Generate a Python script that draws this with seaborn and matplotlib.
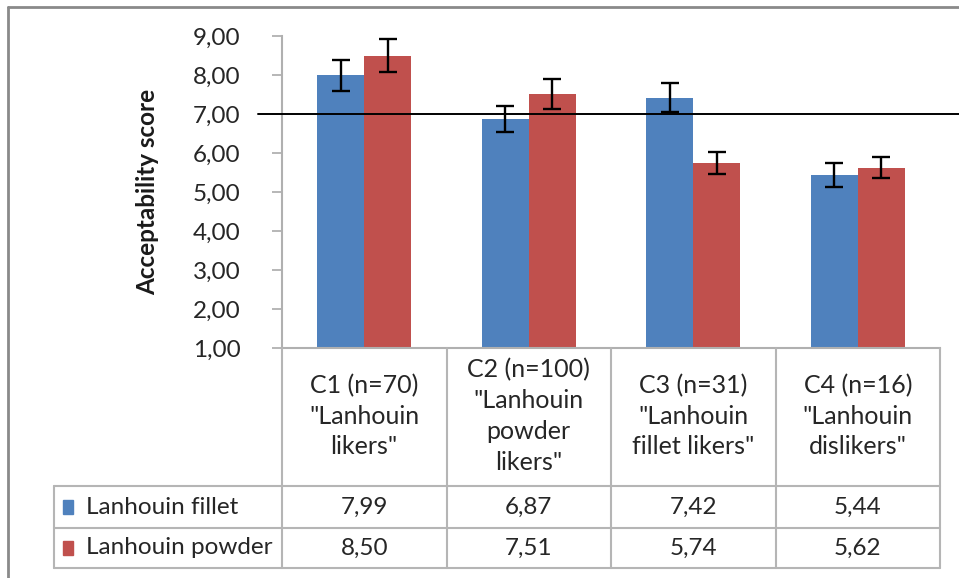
import matplotlib
matplotlib.use("Agg")
import matplotlib.pyplot as plt
from matplotlib.lines import Line2D
from matplotlib.patches import Rectangle
import matplotlib.transforms as mtransforms
import seaborn as sns
import pandas as pd

# Data
categories = ['C1 (n=70)\n"Lanhouin\nlikers"',
              'C2 (n=100)\n"Lanhouin\npowder\nlikers"',
              'C3 (n=31)\n"Lanhouin\nfillet likers"',
              'C4 (n=16)\n"Lanhouin\ndislikers"']
series_names = ['Lanhouin fillet', 'Lanhouin powder']
fillet_scores = [7.99, 6.87, 7.42, 5.44]
powder_scores = [8.50, 7.51, 5.74, 5.62]
fillet_err = [0.40, 0.34, 0.38, 0.30]
powder_err = [0.43, 0.39, 0.29, 0.27]
threshold = 7.0
y_ticks = [1, 2, 3, 4, 5, 6, 7, 8, 9]

colors = ['#4F81BD', '#C0504D']
W, H = 959, 578

sns.set_style('white')
plt.rcParams['font.family'] = ['Lato', 'DejaVu Sans']


def fy(px):
    # pixel row (from top) -> figure fraction
    return 1 - px / H


def fx(px):
    return px / W


def make_frame():
    rows = []
    for name, vals in zip(series_names, [fillet_scores, powder_scores]):
        for cat, v in zip(categories, vals):
            rows.append({'category': cat, 'product': name, 'score': v})
    return pd.DataFrame(rows)


def main():
    df = make_frame()
    fig = plt.figure(figsize=(W / 100, H / 100), dpi=100)
    ax = fig.add_axes([fx(282), fy(348), fx(940) - fx(282), fy(36) - fy(348)])

    sns.barplot(data=df, x='category', y='score', hue='product',
                palette=colors, saturation=1, width=0.57, gap=0,
                errorbar=None, legend=False, linewidth=0, ax=ax)

    # error bars on top of each bar
    for container, errs in zip(ax.containers, [fillet_err, powder_err]):
        for bar, err in zip(container, errs):
            ax.errorbar(bar.get_x() + bar.get_width() / 2, bar.get_height(),
                        yerr=err, fmt='none', ecolor='black',
                        elinewidth=1.7, capsize=6.5, capthick=1.7, zorder=4)

    # reference line at 7
    ax.axhline(threshold, xmin=-0.036, xmax=1.05, color='black',
               linewidth=1.4, clip_on=False, zorder=5)

    ax.set_ylim(1, 9)
    ax.set_xlim(-0.5, len(categories) - 0.5)
    ax.set_yticks(y_ticks)
    ax.set_yticklabels([f'{t:.2f}'.replace('.', ',') for t in y_ticks],
                       fontsize=17.5, color='#262626')
    ax.tick_params(axis='y', length=7, width=1.2, color='#AAAAAA', pad=23, left=True)
    ax.set_xticks([])
    ax.set_xlabel('')
    ax.set_ylabel('Acceptability score', fontsize=17.5, fontweight='bold',
                  color='#1a1a1a', labelpad=24)
    for side in ['top', 'right']:
        ax.spines[side].set_visible(False)
    ax.spines['left'].set_color('#B0B0B0')
    ax.spines['left'].set_linewidth(1.5)
    ax.spines['bottom'].set_color('#B0B0B0')
    ax.spines['bottom'].set_linewidth(1.5)

    # data table under the axis
    grid_color = '#B5B5B5'
    blend = mtransforms.blended_transform_factory(ax.transData, fig.transFigure)
    bounds = [i - 0.5 for i in range(len(categories) + 1)]
    for b in bounds:
        fig.add_artist(Line2D([b, b], [fy(348), fy(568)], transform=blend,
                              color=grid_color, linewidth=1.5))
    for yrow in [486, 528, 568]:
        fig.add_artist(Line2D([fx(54), fx(940)], [fy(yrow), fy(yrow)],
                              color=grid_color, linewidth=1.5))
    fig.add_artist(Line2D([fx(54), fx(54)], [fy(486), fy(568)],
                          color=grid_color, linewidth=1.5))

    for i, cat in enumerate(categories):
        fig.text(i, fy(416), cat, transform=blend, ha='center', va='center',
                 fontsize=18, color='#262626', linespacing=1.4)

    row_centers = [507, 548]
    for name, vals, col, yc in zip(series_names, [fillet_scores, powder_scores],
                                   colors, row_centers):
        fig.add_artist(Rectangle((fx(63), fy(yc + 7)), fx(10), fy(yc - 7) - fy(yc + 7),
                                 transform=fig.transFigure, color=col))
        fig.text(fx(86), fy(yc), name, ha='left', va='center',
                 fontsize=17.5, color='#262626')
        for i, v in enumerate(vals):
            fig.text(i, fy(yc), f'{v:.2f}'.replace('.', ','), transform=blend,
                     ha='center', va='center', fontsize=17.5, color='#262626')

    # outer chart frame
    fig.add_artist(Line2D([fx(8), fx(8)], [fy(7), 0], color='#8A8A8A', linewidth=2))
    fig.add_artist(Line2D([fx(8), 1], [fy(7), fy(7)], color='#8A8A8A', linewidth=2))

    fig.savefig('out.png', dpi=100)


if __name__ == '__main__':
    main()
